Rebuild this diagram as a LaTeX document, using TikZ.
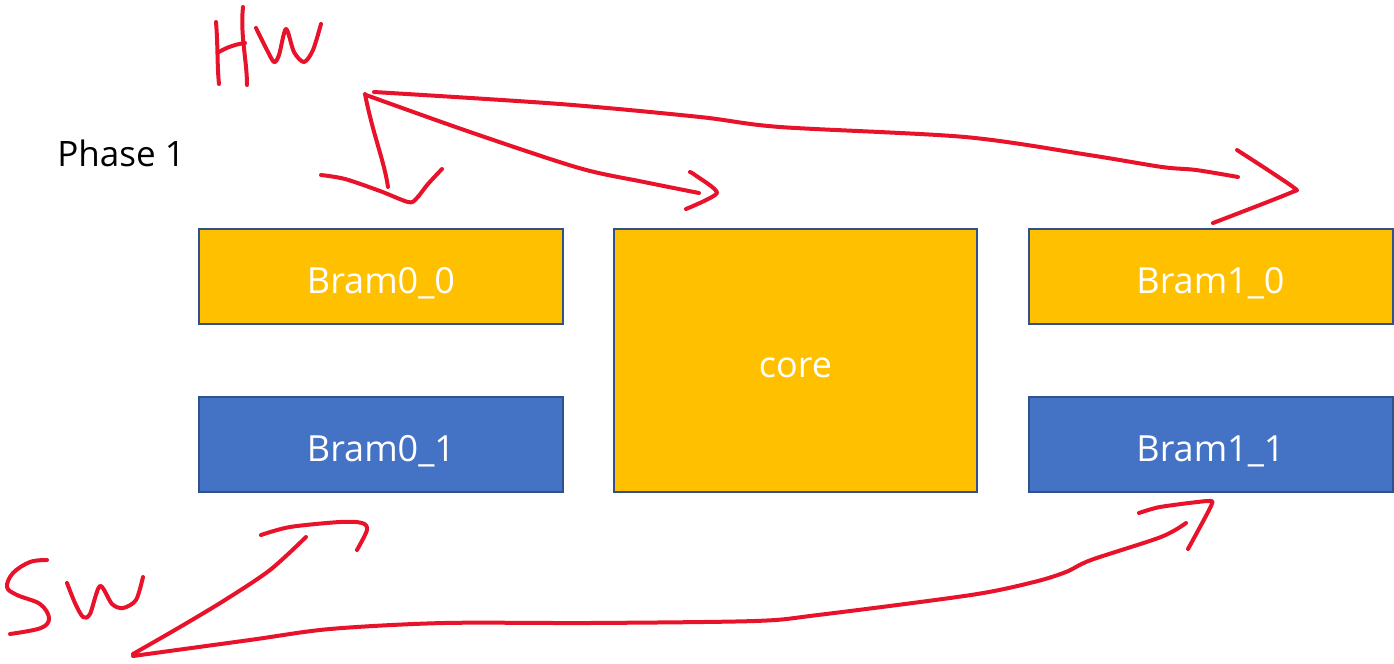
\documentclass[tikz,border=0pt]{standalone}
\usepackage{fontspec}
\setmainfont{Open Sans}
\definecolor{bramorange}{HTML}{FFC000}
\definecolor{bramblue}{HTML}{4472C4}
\definecolor{bramedge}{HTML}{2F528F}
\definecolor{ink}{HTML}{E8132A}
\begin{document}
\begin{tikzpicture}[x=0.5pt,y=-0.5pt,
  block/.style={draw=bramedge,line width=1pt,text=white,font=\fontsize{18}{22}\selectfont,inner sep=0pt,text height=16.5pt,text depth=0pt},
  wide/.style={block,minimum width=182pt,minimum height=47.5pt},
  tall/.style={block,minimum width=181.5pt,minimum height=131.5pt},
  pen/.style={draw=ink,line width=2pt,line cap=round,line join=round}]
\useasboundingbox (0,0) rectangle (1394,664);
% blocks
\node[wide,fill=bramorange] (b00) at (381,276.5) {Bram0\_0};
\node[wide,fill=bramblue]   (b01) at (381,444.5) {Bram0\_1};
\node[tall,fill=bramorange] (core) at (795.5,360.5) {core};
\node[wide,fill=bramorange] (b10) at (1210.5,276.5) {Bram1\_0};
\node[wide,fill=bramblue]   (b11) at (1210.5,444.5) {Bram1\_1};
\node[font=\fontsize{17.5}{21}\selectfont,anchor=base west,inner sep=0pt] (phase) at (57,166) {Phase 1};
% handwritten "Hw"
\coordinate (hw) at (365,94);
\draw[pen] (216,22) .. controls (218,45) and (217,65) .. (219,84);
\draw[pen] (243,7) .. controls (240,35) and (247,60) .. (247,85);
\draw[pen] (219,52) .. controls (227,47) and (237,44) .. (245,43);
\draw[pen] plot[smooth,tension=0.5] coordinates {(256,28) (267,50) (274,62) (279,55) (286,29) (294,52) (304,62) (313,50) (321,24)};
% Hw arrows
\draw[pen] (hw) .. controls (373,135) and (384,160) .. (388,187);
\draw[pen] plot[smooth,tension=0.5] coordinates {(321,175) (345,179) (380,191) (408,202) (416,199) (428,184) (442,169)};
\draw[pen] plot[smooth,tension=0.5] coordinates {(366,95) (470,132) (579,168) (644,182) (699,193)};
\draw[pen] plot[smooth,tension=0.4] coordinates {(690,172) (695,175) (717,193) (686,209)};
\draw[pen] plot[smooth,tension=0.5] coordinates {(374,92) (560,104) (700,117) (780,127) (965,137) (1089,155) (1162,167) (1196,170) (1238,177)};
\draw[pen] plot[smooth,tension=0.4] coordinates {(1237,150) (1293,187) (1290,193) (1213,223)};
% handwritten "Sw"
\coordinate (sw) at (133,654);
\draw[pen] plot[smooth,tension=0.6] coordinates {(47,560) (30,562) (13,573) (7,587) (17,595) (40,604) (49,618) (41,628) (10,634)};
\draw[pen] plot[smooth,tension=0.5] coordinates {(67,583) (75,603) (83,617) (90,614) (100,586) (112,604) (123,608) (136,600) (143,577)};
% Sw arrows
\draw[pen] plot[smooth,tension=0.5] coordinates {(sw) (180,627) (225,600) (270,570) (306,537)};
\draw[pen] plot[smooth,tension=0.5] coordinates {(261,535) (290,527) (340,522) (362,523) (367,530) (357,550)};
\draw[pen] plot[smooth,tension=0.5] coordinates {(133,656) (250,640) (330,629) (444,623) (590,623) (755,621) (818,615) (971,595) (1034,582) (1066,572) (1091,560) (1161,537) (1186,523)};
\draw[pen] plot[smooth,tension=0.4] coordinates {(1139,513) (1160,507) (1208,501) (1211,506) (1188,549)};
\end{tikzpicture}
\end{document}
